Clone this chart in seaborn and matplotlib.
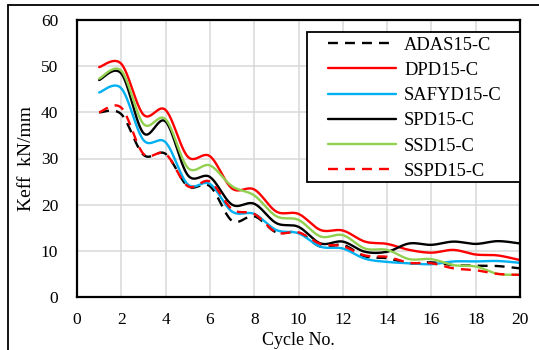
import numpy as np
import pandas as pd
import matplotlib
matplotlib.use("Agg")
import matplotlib.pyplot as plt
from matplotlib.lines import Line2D
from matplotlib.patches import Rectangle
import seaborn as sns

cycles = list(range(1, 21))
series_names = ["ADAS15-C", "DPD15-C", "SAFYD15-C", "SPD15-C", "SSD15-C", "SSPD15-C"]

adas = [40.0, 39.6, 30.8, 31.0, 24.0, 24.0, 16.5, 17.5, 14.0, 14.0, 10.9, 11.3, 8.8, 8.4, 7.3, 7.5, 6.9, 6.8, 6.7, 6.2]
dpd = [49.8, 50.5, 39.5, 40.5, 30.4, 30.5, 23.5, 23.3, 18.5, 18.0, 14.5, 14.4, 12.0, 11.5, 10.2, 9.6, 10.2, 9.2, 9.0, 8.0]
safyd = [44.3, 45.2, 34.0, 33.5, 24.4, 24.5, 18.5, 18.0, 14.5, 13.8, 10.9, 10.5, 8.3, 7.6, 7.3, 7.1, 7.7, 7.7, 7.8, 7.4]
spd = [47.0, 48.4, 35.5, 38.0, 26.4, 26.0, 20.0, 20.2, 16.0, 15.2, 11.6, 12.0, 9.8, 9.8, 11.6, 11.3, 12.0, 11.5, 12.1, 11.6]
ssd = [47.3, 49.0, 37.5, 38.5, 28.0, 28.5, 24.0, 22.0, 17.5, 16.7, 13.1, 13.4, 10.5, 10.2, 8.2, 8.2, 6.9, 6.6, 5.0, 4.8]
sspd = [40.0, 41.0, 31.0, 31.0, 24.0, 25.0, 19.0, 18.0, 14.0, 14.0, 11.5, 11.0, 9.0, 8.7, 7.4, 7.3, 6.2, 5.8, 5.0, 4.8]

x_ticks = [0, 2, 4, 6, 8, 10, 12, 14, 16, 18, 20]
y_ticks = [0, 10, 20, 30, 40, 50, 60]

values = [adas, dpd, safyd, spd, ssd, sspd]
colors = ["#000000", "#FF0000", "#00B0F0", "#000000", "#92D050", "#FF0000"]
dashed = [True, False, False, False, False, True]


def smooth(x, y, n=24):
    pts = np.column_stack([np.asarray(x, float), np.asarray(y, float)])
    P = np.vstack([pts[0], pts, pts[-1]])
    out = []
    t = np.linspace(0, 1, n, endpoint=False)[:, None]
    for i in range(1, len(P) - 2):
        p0, p1, p2, p3 = P[i - 1], P[i], P[i + 1], P[i + 2]
        c1 = p1 + (p2 - p0) / 6.0
        c2 = p2 - (p3 - p1) / 6.0
        b = (1 - t) ** 3 * p1 + 3 * (1 - t) ** 2 * t * c1 + 3 * (1 - t) * t ** 2 * c2 + t ** 3 * p2
        out.append(b)
    out.append(pts[-1:])
    s = np.vstack(out)
    return s[:, 0], s[:, 1]


sns.set_theme(style="white")
plt.rcParams["font.family"] = ["Liberation Serif", "DejaVu Serif"]
plt.rcParams["font.size"] = 12

fig = plt.figure(figsize=(5.39, 3.5), dpi=100)
ax = fig.add_axes([77 / 539, 1 - 297 / 350, (520 - 77) / 539, (297 - 20) / 350])

for name, vals, col, dsh in zip(series_names, values, colors, dashed):
    sx, sy = smooth(cycles, vals)
    df = pd.DataFrame({"x": sx, "y": sy})
    sns.lineplot(data=df, x="x", y="y", ax=ax, color=col, lw=1.7,
                 linestyle=(0, (4.2, 3.0)) if dsh else "-", label=name,
                 estimator=None, sort=False)

ax.set_xlim(0, 20)
ax.set_ylim(0, 60)
ax.set_xticks(x_ticks)
ax.set_yticks(y_ticks)
ax.set_xticklabels([str(v) for v in x_ticks], fontsize=12.5)
ax.set_yticklabels([str(v) for v in y_ticks], fontsize=12.5)
ax.grid(True, color="#d9d9d9", lw=1.1)
ax.set_axisbelow(True)
for sp in ax.spines.values():
    sp.set_color("black")
    sp.set_linewidth(1.6)
ax.tick_params(axis="y", length=0, pad=13.5, colors="black")
ax.tick_params(axis="x", length=0, pad=10.5, colors="black")
ax.set_xlabel("Cycle No.", fontsize=13, labelpad=3, color="black")
ax.set_ylabel("Keff  kN/mm", fontsize=14, labelpad=4, color="black")

# legend frame drawn as a rectangle, legend entries placed inside
ax.add_patch(Rectangle((0.519, 0.415), 0.481, 0.9567 - 0.415, transform=ax.transAxes,
                       facecolor="white", edgecolor="black", lw=1.3, zorder=5,
                       clip_on=False))
leg = ax.legend(loc="upper left", bbox_to_anchor=(0.5666, 0.940), borderaxespad=0,
                frameon=False, fontsize=13.3, handlelength=3.68, handletextpad=0.43,
                labelspacing=0.445, borderpad=0)
leg.set_zorder(6)
for txt in leg.get_texts():
    txt.set_color("black")

fig.add_artist(Line2D([8 / 539, 1], [1 - 5 / 350, 1 - 5 / 350], color="black", lw=1.3,
                      transform=fig.transFigure))
fig.add_artist(Line2D([8 / 539, 8 / 539], [0, 1 - 5 / 350], color="black", lw=1.3,
                      transform=fig.transFigure))

fig.savefig("out.png", dpi=100)
